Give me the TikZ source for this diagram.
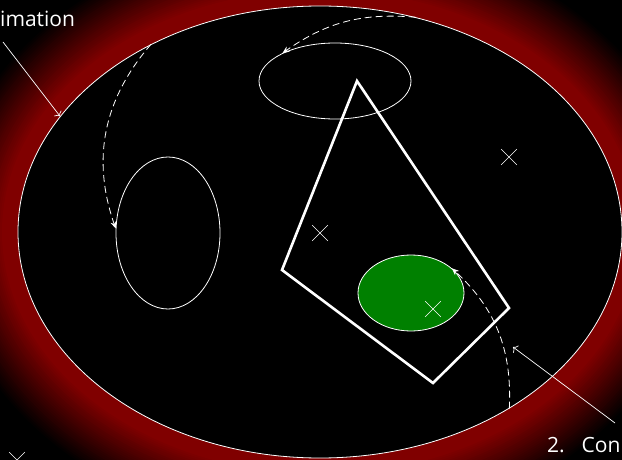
\documentclass[tikz,border=0pt]{standalone}
\usepackage{fontspec}
\setmainfont{Open Sans}
\usetikzlibrary{shapes.geometric,shapes.misc,arrows.meta}
\definecolor{glowred}{RGB}{128,0,0}
\definecolor{blobgreen}{RGB}{0,128,0}
\begin{document}
\begin{tikzpicture}[x=1pt,y=-1pt,
  ring/.style={draw=white, ellipse, inner sep=0pt, line width=0.8pt},
  crossmark/.style={draw=white, cross out, minimum size=15pt, inner sep=0pt, line width=0.7pt},
  flow/.style={white, line width=0.8pt, dash pattern=on 7pt off 4pt, -{Stealth[length=7pt,width=6pt]}},
  pointer/.style={white, line width=0.7pt, -{To[length=4pt,width=9pt]}},
  note/.style={white, inner sep=0pt, anchor=base west, font=\fontsize{21}{25}\selectfont}]
\useasboundingbox (0,0) rectangle (622,460);
\clip (0,0) rectangle (622,460);
\fill[black] (0,0) rectangle (622,460);
% glow round the region
\foreach \i in {38,37,...,0} {
  \pgfmathtruncatemacro\p{min(100,(38-\i)*100/30)}
  \fill[glowred!\p!black] (320,232) ellipse ({302+2*\i} and {226+2*\i});
}
\node[ring, fill=black, minimum width=604pt, minimum height=452pt] (region) at (320,232) {};
\node[ring, minimum width=152pt, minimum height=76pt] (upper) at (335,81) {};
\node[ring, minimum width=104pt, minimum height=152pt] (left) at (168,233) {};
\node[ring, fill=blobgreen, minimum width=106pt, minimum height=76pt] (blob) at (411,293) {};
% polygon
\draw[white, line width=2.6pt, line join=miter] (357,81) -- (509,308) -- (433,383) -- (282,270) -- cycle;
% crosses
\node[crossmark] (xa) at (509,157) {};
\node[crossmark] (xb) at (320,233) {};
\node[crossmark] (xc) at (433,309) {};
\node[crossmark] (xd) at (17,460) {};
% moves
\draw[flow] (region.66) to[bend right=20] (upper.152);
\draw[flow] (region.132) to[bend right=30] (left.175);
\draw[flow] (region.-43) to[bend right=25] (blob.31);
% labels
\node[note] (approx) at (0,27) {imation};
\node[note] (cond) at (547,452) {2.\hspace{0.8em}Con};
\coordinate (approxFoot) at (3,42);
\coordinate (condFoot) at (615,423);
\coordinate (condTip) at (513,347);
\draw[pointer] (approxFoot) -- (region.156.7);
\draw[pointer] (condFoot) -- (condTip);
\end{tikzpicture}
\end{document}
